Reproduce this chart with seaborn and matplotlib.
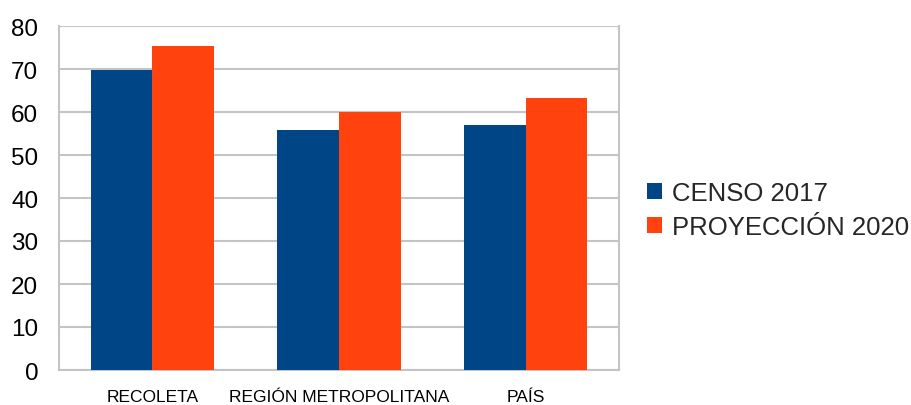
import matplotlib
matplotlib.use("Agg")
import matplotlib.pyplot as plt
import seaborn as sns
import pandas as pd
from matplotlib.patches import Patch

categories = ["RECOLETA", "REGIÓN METROPOLITANA", "PAÍS"]
series_names = ["CENSO 2017", "PROYECCIÓN 2020"]
censo_2017 = [69.8, 55.8, 57.0]
proyeccion_2020 = [75.3, 60.0, 63.3]
colors = ["#004586", "#ff420e"]

df = pd.DataFrame({
    "cat": categories * 2,
    "serie": [series_names[0]] * 3 + [series_names[1]] * 3,
    "val": censo_2017 + proyeccion_2020,
})

sns.set_style("white")
plt.rcParams["font.family"] = ["Liberation Sans", "DejaVu Sans"]

fig = plt.figure(figsize=(9.11, 4.06), dpi=100)
ax = fig.add_axes([59/911, 1-371/406, (619-59)/911, (371-27)/406])

sns.barplot(data=df, x="cat", y="val", hue="serie", palette=colors,
            width=0.66, saturation=1, ax=ax, legend=False, zorder=3)
for p in ax.patches:
    p.set_edgecolor("none")

gc = "#c4c4c4"
ax.set_xlim(-0.5, 2.5)
ax.set_ylim(0, 80)
ax.set_yticks(range(0, 81, 10))
ax.yaxis.grid(True, color=gc, linewidth=1.5, zorder=0)
ax.set_axisbelow(True)
for s in ["left", "bottom", "right"]:
    ax.spines[s].set_color(gc)
    ax.spines[s].set_linewidth(1.5)
ax.spines["top"].set_visible(False)

ax.set_xlabel("")
ax.set_ylabel("")
ax.tick_params(axis="y", direction="out", length=8, width=1.5, color=gc,
               labelsize=17.5, pad=7, labelcolor="black")
ax.tick_params(axis="x", which="major", length=0, labelsize=12.5, pad=13.5, labelcolor="black")
ax.set_xticks([-0.5, 0.5, 1.5, 2.5], minor=True)
ax.tick_params(axis="x", which="minor", direction="out", length=7.5, width=1.5, color=gc)

handles = [Patch(facecolor=c, edgecolor="none") for c in colors]
fig.legend(handles, series_names, loc="center left", bbox_to_anchor=(647/911, 1-211/406),
           frameon=False, fontsize=18.5, handlelength=0.58, handleheight=0.58,
           handletextpad=0.39, labelspacing=0.42, borderaxespad=0, borderpad=0)

fig.savefig("out.png", dpi=100)
